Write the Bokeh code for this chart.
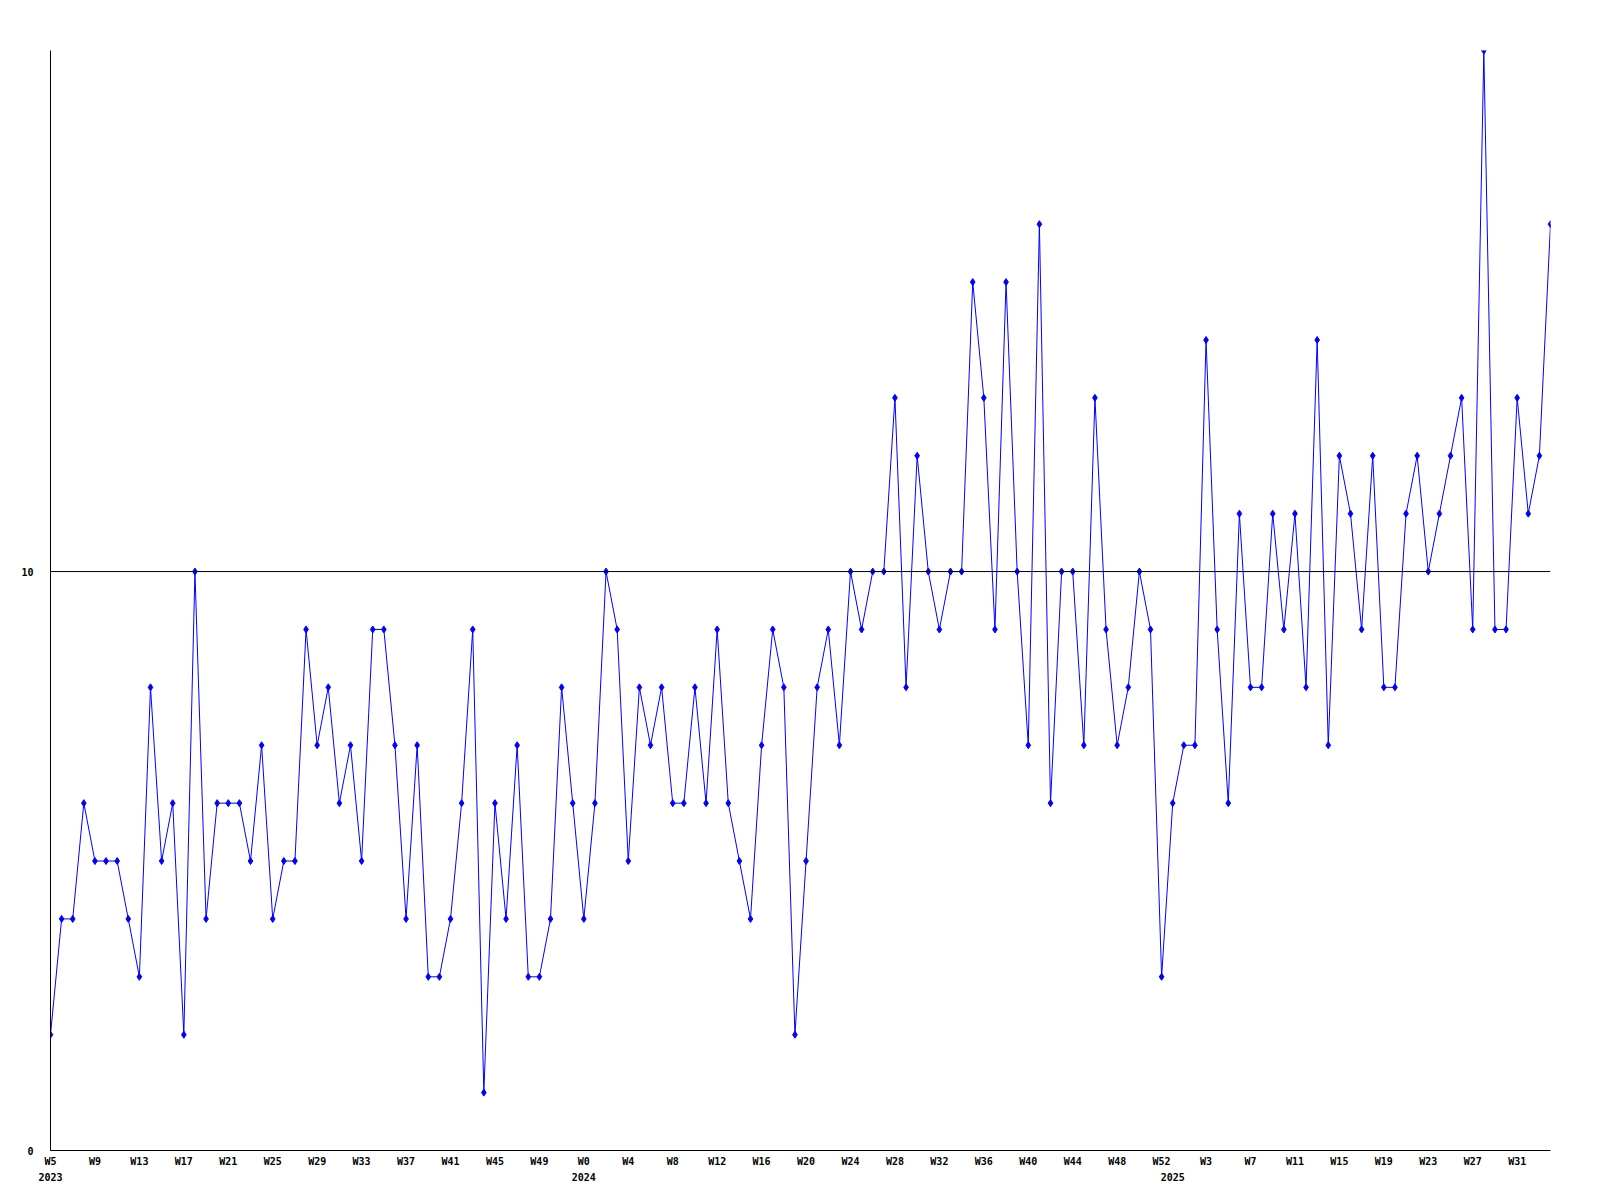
from bokeh.plotting import figure
from bokeh.models import FixedTicker, Span, Range1d, LinearAxis
from bokeh.embed import file_html
from bokeh.resources import INLINE

# weekly values, 2023 W5 .. 2025 W34
values = [2, 4, 4, 6, 5, 5, 5, 4, 3, 8, 5, 6, 2, 10, 4, 6, 6, 6, 5, 7,
          4, 5, 5, 9, 7, 8, 6, 7, 5, 9, 9, 7, 4, 7, 3, 3, 4, 6, 9, 1,
          6, 4, 7, 3, 3, 4, 8, 6, 4, 6, 10, 9, 5, 8, 7, 8, 6, 6, 8, 6,
          9, 6, 5, 4, 7, 9, 8, 2, 5, 8, 9, 7, 10, 9, 10, 10, 13, 8, 12, 10,
          9, 10, 10, 15, 13, 9, 15, 10, 7, 16, 6, 10, 10, 7, 13, 9, 7, 8, 10, 9,
          3, 6, 7, 7, 14, 9, 6, 11, 8, 8, 11, 9, 11, 8, 14, 7, 12, 11, 9, 12,
          8, 8, 11, 12, 10, 11, 12, 13, 9, 19, 9, 9, 13, 11, 12, 16]

week_labels = ["W5", "W9", "W13", "W17", "W21", "W25", "W29", "W33", "W37", "W41", "W45", "W49",
               "W0", "W4", "W8", "W12", "W16", "W20", "W24", "W28", "W32", "W36", "W40", "W44", "W48", "W52",
               "W3", "W7", "W11", "W15", "W19", "W23", "W27", "W31"]
week_label_idx = [0, 4, 8, 12, 16, 20, 24, 28, 32, 36, 40, 44,
                  48, 52, 56, 60, 64, 68, 72, 76, 80, 84, 88, 92, 96, 100,
                  104, 108, 112, 116, 120, 124, 128, 132]
years = ["2023", "2024", "2025"]
year_idx = [0, 48, 101]
y_ticks = [0, 10]
reference_level = 10

x = list(range(len(values)))

p = figure(width=1584, height=1184, output_backend="svg", toolbar_location=None,
           x_range=Range1d(0, len(values) - 1), y_range=Range1d(0, 19),
           min_border_left=50, min_border_right=34, min_border_top=50, min_border_bottom=34)
p.outline_line_color = None
p.xgrid.visible = False
p.ygrid.visible = False
p.background_fill_color = "white"
p.border_fill_color = "white"

font = "DejaVu Sans Mono"

p.yaxis.ticker = FixedTicker(ticks=y_ticks)
p.yaxis.major_tick_line_color = None
p.yaxis.minor_tick_line_color = None
p.yaxis.major_tick_out = 0
p.yaxis.major_label_standoff = 17
p.yaxis.major_label_text_font = font
p.yaxis.major_label_text_font_style = "bold"
p.yaxis.major_label_text_font_size = "10px"
p.yaxis.major_label_text_color = "black"
p.yaxis.axis_line_color = "black"

p.xaxis.ticker = FixedTicker(ticks=week_label_idx)
p.xaxis.major_label_overrides = {i: s for i, s in zip(week_label_idx, week_labels)}
p.xaxis.major_tick_line_color = None
p.xaxis.minor_tick_line_color = None
p.xaxis.major_tick_out = 0
p.xaxis.major_tick_in = 0
p.xaxis.major_label_standoff = 5
p.xaxis.major_label_text_font = font
p.xaxis.major_label_text_font_style = "bold"
p.xaxis.major_label_text_font_size = "10px"
p.xaxis.major_label_text_color = "black"
p.xaxis.axis_line_color = "black"

yax = LinearAxis(ticker=FixedTicker(ticks=year_idx),
                 major_label_overrides={i: s for i, s in zip(year_idx, years)})
yax.axis_line_color = None
yax.major_tick_line_color = None
yax.minor_tick_line_color = None
yax.major_tick_out = 0
yax.major_tick_in = 0
yax.major_label_standoff = 3
yax.major_label_text_font = font
yax.major_label_text_font_style = "bold"
yax.major_label_text_font_size = "10px"
yax.major_label_text_color = "black"
p.add_layout(yax, "below")

p.add_layout(Span(location=reference_level, dimension="width", line_color="black", line_width=1))

p.line(x, values, line_color="#0000ff", line_width=1)
p.scatter(x, values, marker="diamond", size=7, fill_color="#0000ff", line_color="#0000ff")

open("out.html", "w").write(file_html(p, INLINE))
